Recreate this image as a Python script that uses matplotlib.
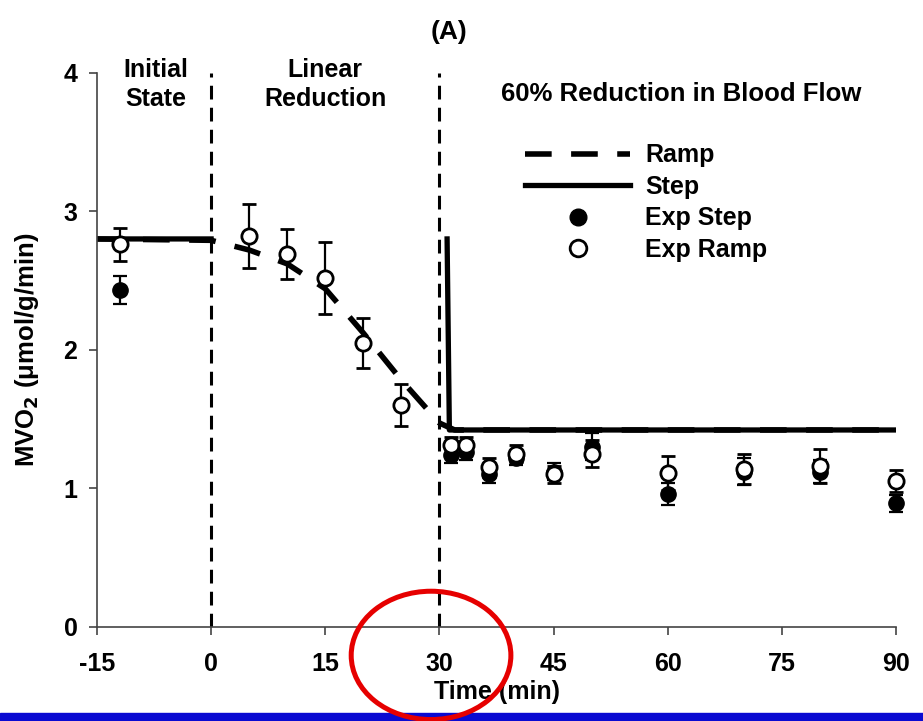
import numpy as np
import matplotlib.pyplot as plt
from matplotlib.lines import Line2D
from matplotlib.patches import Ellipse, Rectangle

plt.rcParams['font.family'] = ['Liberation Sans', 'DejaVu Sans']
plt.rcParams['font.weight'] = 'bold'
plt.rcParams['axes.unicode_minus'] = False

# model curves
ramp_t = [-15, 0, 5, 10, 15, 20, 25, 30, 32, 90]
ramp_y = [2.8, 2.79, 2.72, 2.62, 2.44, 2.12, 1.78, 1.47, 1.42, 1.42]
step_t = [-15, 0, np.nan, 31, 31.3, 90]
step_y = [2.8, 2.8, np.nan, 2.8, 1.42, 1.42]

# experimental data
exp_ramp_t = [-12, 5, 10, 15, 20, 25, 31.5, 33.5, 36.5, 40, 45, 50, 60, 70, 80, 90]
exp_ramp_y = [2.76, 2.82, 2.69, 2.52, 2.05, 1.60, 1.31, 1.31, 1.15, 1.25, 1.10, 1.25, 1.11, 1.14, 1.16, 1.05]
exp_ramp_err = [0.12, 0.23, 0.18, 0.26, 0.18, 0.15, 0.06, 0.06, 0.07, 0.06, 0.06, 0.1, 0.12, 0.11, 0.12, 0.08]

exp_step_t = [-12, 31.5, 33.5, 36.5, 40, 45, 50, 60, 70, 80, 90]
exp_step_y = [2.43, 1.24, 1.26, 1.10, 1.22, 1.12, 1.30, 0.96, 1.12, 1.12, 0.89]
exp_step_err = [0.1, 0.06, 0.06, 0.06, 0.05, 0.06, 0.1, 0.08, 0.1, 0.08, 0.06]

xticks = [-15, 0, 15, 30, 45, 60, 75, 90]
yticks = [0, 1, 2, 3, 4]

fig = plt.figure(figsize=(9.23, 7.21), dpi=100)
ax = fig.add_axes([0.105, 0.131, 0.866, 0.768])

# phase boundaries
for xv in [0, 30]:
    ax.plot([xv, xv], [0, 4], color='black', lw=2.2, linestyle=(0, (4.5, 2.7)))

ax.plot(ramp_t, ramp_y, color='black', lw=4, linestyle=(0, (4.8, 3.5)))
ax.plot(step_t, step_y, color='black', lw=3.8)

ax.errorbar(exp_step_t, exp_step_y, yerr=exp_step_err, fmt='o', color='black',
            mfc='black', mec='black', ms=11, capsize=5, capthick=1.6, elinewidth=1.6,
            clip_on=False, zorder=4)
ax.errorbar(exp_ramp_t, exp_ramp_y, yerr=exp_ramp_err, fmt='o', color='black',
            mfc='white', mec='black', mew=2, ms=11, capsize=5, capthick=1.6, elinewidth=1.6,
            clip_on=False, zorder=5)

ax.set_xlim(-15, 90)
ax.set_ylim(0, 4)
ax.set_xticks(xticks)
ax.set_yticks(yticks)
ax.tick_params(labelsize=18, length=6, width=1.2, color='#444444')
ax.tick_params(axis='x', pad=12)
ax.tick_params(axis='y', pad=8)
for s in ['top', 'right']:
    ax.spines[s].set_visible(False)
for s in ['left', 'bottom']:
    ax.spines[s].set_linewidth(1.2)
    ax.spines[s].set_color('#444444')

ax.set_xlabel('Time (min)', fontsize=18, fontweight='bold', labelpad=3)
ax.set_ylabel('MVO$_\\mathbf{2}$ (\u03bcmol/g/min)', fontsize=18.5, fontweight='bold', labelpad=16)
fig.text(0.486, 0.955, '(A)', fontsize=19, fontweight='bold', ha='center', va='center')

ax.text(-7.2, 4.11, 'Initial\nState', fontsize=18, ha='center', va='top', linespacing=1.3)
ax.text(15, 4.11, 'Linear\nReduction', fontsize=18, ha='center', va='top', linespacing=1.3)
ax.text(61.7, 3.85, '60% Reduction in Blood Flow', fontsize=18.5, ha='center', va='center')

handles = [
    Line2D([], [], color='black', lw=4, linestyle=(0, (4.8, 3.5))),
    Line2D([], [], color='black', lw=3.8),
    Line2D([], [], ls='none', marker='o', ms=12, mfc='black', mec='black'),
    Line2D([], [], ls='none', marker='o', ms=12, mfc='white', mec='black', mew=2),
]
labels = ['Ramp', 'Step', 'Exp Step', 'Exp Ramp']
ax.legend(handles, labels, loc='upper left', bbox_to_anchor=(0.52, 0.895), frameon=False,
          fontsize=18, handlelength=4.2, handletextpad=0.6, labelspacing=0.3, borderpad=0)

# annotation overlays
fig.patches.append(Rectangle((0, 0), 1, 0.011, transform=fig.transFigure,
                             color='#0a0ad2', zorder=1))
fig.patches.append(Ellipse((0.467, 0.091), 0.173, 0.178, transform=fig.transFigure,
                           fill=False, edgecolor='#e60000', lw=3.6, zorder=2))

fig.savefig('out.png', dpi=100)
